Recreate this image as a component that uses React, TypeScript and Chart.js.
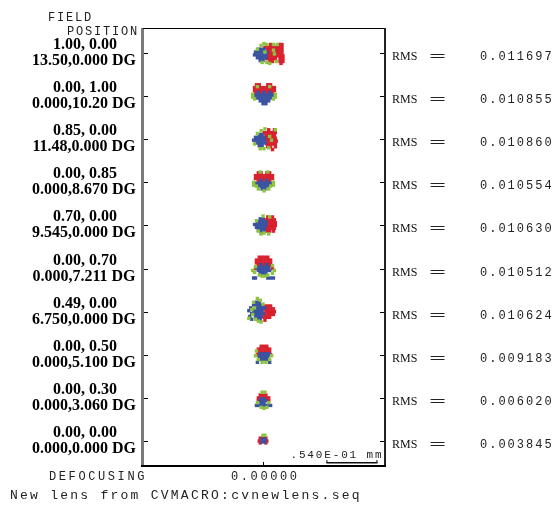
import React, { useEffect, useRef } from "react";
import { Chart, registerables } from "chart.js";

Chart.register(...registerables);

// Field labels (relative, degrees) and RMS spot radius (mm)
const FIELD_REL = ["1.00, 0.00", "0.00, 1.00", "0.85, 0.00", "0.00, 0.85", "0.70, 0.00", "0.00, 0.70", "0.49, 0.00", "0.00, 0.50", "0.00, 0.30", "0.00, 0.00"];
const FIELD_DEG = ["13.50,0.000 DG", "0.000,10.20 DG", "11.48,0.000 DG", "0.000,8.670 DG", "9.545,0.000 DG", "0.000,7.211 DG", "6.750,0.000 DG", "0.000,5.100 DG", "0.000,3.060 DG", "0.000,0.000 DG"];
const RMS_VALUES = ["0.011697", "0.010855", "0.010860", "0.010554", "0.010630", "0.010512", "0.010624", "0.009183", "0.006020", "0.003845"];
const DEFOCUS_LABEL = "0.00000";
const SCALE_LABEL = ".540E-01 mm";
const SCALE_LEN_UM = 54;
const SCALE_END_UM = 120;
const FOOTER = "New lens from CVMACRO:cvnewlens.seq";

// Spot ray intercepts in micrometres relative to each field's centre.
// Each entry: [dy (down), [dx, dx, ...]]
type Spot = [number, number[]][];

const RED_SPOTS: Spot[] = [
  [[-9, [7, 16, 19]], [-6, [1, 4, 7, 10, 13, 16, 19]], [-3, [4, 7, 13, 16, 19]], [0, [4, 7, 10, 13, 16, 19]], [3, [5, 8, 11, 14, 17, 20]], [6, [3, 6, 9, 12, 17, 20]], [9, [6, 9, 17, 20]], [11, [18]]],
  [[-12, [-8, -5, 4, 7]], [-9, [-10, -7, -4, -1, 2, 5, 8, 11]], [-6, [-10, -7, -4, -1, 2, 5, 8, 11]], [-3, [-9, -3, 3, 9]]],
  [[-10, [5, 11]], [-7, [0, 3, 6, 9, 12]], [-4, [2, 5, 8, 11]], [-1, [3, 6, 9, 12]], [2, [4, 7, 10, 13]], [5, [3, 6, 9, 12]], [8, [4, 7, 12]], [11, [9]]],
  [[-10, [-6, -3, 3, 6]], [-7, [-9, -6, -3, 0, 3, 6, 9]], [-4, [-9, -6, -3, 0, 3, 6, 9]], [-1, [-6, 0, 6]]],
  [[-9, [4, 9]], [-6, [2, 5, 8, 11]], [-3, [3, 6, 9, 12]], [0, [3, 6, 9, 12]], [3, [2, 5, 8, 11]], [6, [3, 6, 10]]],
  [[-12, [-5, -2, 1, 4]], [-9, [-8, -5, -2, 1, 4, 7]], [-6, [-8, -5, -2, 1, 4, 7]], [-3, [-6, 0, 6]], [0, [-9, 9]]],
  [[-6, [1, 4, 7]], [-3, [1, 4, 7, 10]], [0, [2, 5, 8, 11]], [3, [1, 4, 7, 10]], [6, [0, 3, 6]], [9, [1]]],
  [[-9, [-3, 0, 3]], [-6, [-6, -3, 0, 3, 6]], [-3, [-6, -3, 0, 3, 6]], [0, [-7, 7]]],
  [[-3, [-4, -1, 2]], [0, [-6, -3, 0, 3, 5]], [3, [-6, 5]]],
  [[-4, [-1]], [-3, [-4, 2]], [0, [-5, 3]], [2, [-4, 2]]],
];

const BLUE_SPOTS: Spot[] = [
  [[-4, [-6, -3, 0]], [-1, [-9, -6, -3, 0, 3]], [2, [-10, -7, -4, -1, 2]], [5, [-7, -4, -1, 2]], [8, [-4, -1]]],
  [[-4, [-6, 0, 6]], [-1, [-9, -6, -3, 0, 3, 6, 9]], [2, [-8, -5, -2, 1, 4, 7]], [5, [-4, -1, 2, 5]], [8, [-1, 2]]],
  [[-5, [-5, -2]], [-2, [-9, -6, -3, 0]], [1, [-11, -8, -5, -2, 1]], [4, [-8, -5, -2, 1]], [7, [-5, -2]]],
  [[-2, [-3, 3]], [1, [-8, -5, -2, 1, 4, 7]], [4, [-5, -2, 1, 4]], [7, [-2, 1]]],
  [[-7, [-4, -1]], [-4, [-7, -4, -1, 2]], [-1, [-10, -7, -4, -1, 2]], [2, [-8, -5, -2, 1]], [5, [-6, -3, 0]], [8, [-3]]],
  [[-4, [-3, 3]], [-1, [-7, -4, -1, 2, 5]], [2, [-6, -3, 0, 3, 6]], [5, [-4, -1, 2]], [10, [-11, -9, 4, 7, 10]]],
  [[-10, [-8, -5]], [-7, [-11, -8, -5, -2]], [-4, [-14, -8, -5, -2, 1]], [-1, [-16, -11, -8, -5, -2]], [2, [-13, -10, -7, -4, -1]], [5, [-15, -9, -6, -3]], [8, [-13, -7, -4]]],
  [[-1, [-4, -1, 2, 5]], [2, [-5, -2, 1, 4]], [5, [-3, 0, 3]], [8, [-7, 6]]],
  [[1, [-3, 0]], [3, [-4, -1, 2]], [6, [-3, 0]], [8, [-8, -5, -2, 1, 4, 7]]],
  [[-2, [-2, 1]], [1, [-2, 1]]],
];

const GREEN_SPOTS: Spot[] = [
  [[-10, [0]], [-9, [3, 10, 14]], [-8, [-3]], [-4, [-7]], [-3, [10]], [-1, [1]], [1, [11]], [9, [13]], [10, [-2, 3]], [11, [6]]],
  [[-10, [-7, 6]], [-2, [-12, 12]], [1, [-12, 12]], [3, [-10, 10]]],
  [[-11, [1]], [-10, [12]], [-9, [-3]], [-6, [-7]], [-3, [6]], [1, [8]], [5, [-10]], [9, [5]], [10, [-4, 0]]],
  [[-11, [-4, 4]], [0, [-11, 10]], [3, [-11, 10]], [4, [-8, 7]], [7, [-6, 5]], [9, [0]]],
  [[-10, [-1]], [-9, [6]], [-5, [-8]], [6, [-6]], [8, [0]], [9, [-3, 5]]],
  [[-3, [9]], [-2, [-9]], [2, [-12, 11]], [4, [-10]], [5, [9]], [7, [-5, 4]], [8, [-2, 1]]],
  [[-14, [-7]], [-12, [-4]], [-10, [-11]], [-8, [-1]], [-4, [-10]], [-2, [-13]], [3, [-12]], [7, [-16]], [8, [-9]], [10, [-6]], [11, [-3]]],
  [[-4, [-8]], [1, [-9, 8]], [5, [-6, 6]], [8, [-2, 2]]],
  [[-6, [-2, 1]], [5, [-7, 5]], [10, [-3, 3]], [11, [0]]],
  [[-6, [-1, 1]]],
];

const ROW_UM = 45.6; // micrometres spanned by one field row at the plot's scale
const X_HALF_UM = 128;

function toPoints(spots: Spot[]) {
  const pts: { x: number; y: number }[] = [];
  spots.forEach((spot, row) =>
    spot.forEach(([dy, xs]) => xs.forEach((dx) => pts.push({ x: dx, y: row + dy / ROW_UM })))
  );
  return pts;
}

const MONO = "'Liberation Mono', monospace";
const SERIF = "'Liberation Serif', serif";

const framePlugin = {
  id: "spotFrame",
  afterDraw(chart: any) {
    const { ctx, chartArea: a, scales } = chart;
    const xs = scales.x;
    const ys = scales.y;
    ctx.save();
    // frame
    ctx.fillStyle = "#7a7a7a";
    ctx.fillRect(a.left - 2, a.top, 3, a.bottom - a.top + 1);
    ctx.fillStyle = "#000";
    ctx.fillRect(a.left, a.top, a.right - a.left, 1);
    ctx.fillStyle = "#222";
    ctx.fillRect(a.right - 1, a.top, 2, a.bottom - a.top + 1);
    ctx.fillStyle = "#000";
    ctx.fillRect(a.left - 2, a.bottom - 1, a.right - a.left + 3, 2);

    const cx = xs.getPixelForValue(0);
    ctx.fillRect(Math.round(cx) - 1, a.bottom - 4, 1, 3);

    // field rows: ticks + labels
    for (let i = 0; i < FIELD_REL.length; i++) {
      const py = Math.round(ys.getPixelForValue(i));
      ctx.fillStyle = "#000";
      ctx.fillRect(a.left + 1, py, 4, 1);
      ctx.fillRect(a.right - 5, py, 4, 1);

      ctx.letterSpacing = "0px";
      ctx.font = `bold 16px ${SERIF}`;
      ctx.textAlign = "center";
      ctx.textBaseline = "alphabetic";
      ctx.fillStyle = "#000";
      ctx.fillText(FIELD_REL[i], 85, py - 4.5);
      ctx.fillText(FIELD_DEG[i], 84, py + 11.5);

      ctx.textAlign = "left";
      ctx.font = `12px ${SERIF}`;
      ctx.fillStyle = "#111";
      ctx.fillText("RMS", 392, py + 6.5);

      ctx.save();
      ctx.font = `13px ${MONO}`;
      ctx.textAlign = "center";
      ctx.translate(437.5, py + 7);
      ctx.scale(2.2, 1);
      ctx.fillStyle = "#222";
      ctx.fillText("=", 0, 0);
      ctx.restore();

      ctx.textAlign = "left";
      ctx.font = `12px ${MONO}`;
      ctx.letterSpacing = "2px";
      ctx.fillStyle = "#222";
      ctx.fillText(RMS_VALUES[i], 480, py + 7);
      ctx.letterSpacing = "0px";
    }

    // scale bar
    const x0 = xs.getPixelForValue(SCALE_END_UM - SCALE_LEN_UM);
    const x1 = xs.getPixelForValue(SCALE_END_UM);
    ctx.fillStyle = "#111";
    ctx.fillRect(x0, a.bottom - 4, x1 - x0, 1.5);
    ctx.fillRect(x0, a.bottom - 6, 1, 3);
    ctx.fillRect(x1 - 1, a.bottom - 6, 1, 3);
    ctx.font = `11px ${MONO}`;
    ctx.letterSpacing = "1.85px";
    ctx.textAlign = "left";
    ctx.fillStyle = "#222";
    ctx.fillText(SCALE_LABEL, x1 - 87, a.bottom - 8);

    // headers and footers
    ctx.font = `12px ${MONO}`;
    ctx.letterSpacing = "1.8px";
    ctx.fillText("FIELD", 48, 21);
    ctx.fillText("POSITION", 67, 34.5);

    ctx.letterSpacing = "2.6px";
    ctx.fillText("DEFOCUSING", 49, 479.5);
    ctx.fillText(DEFOCUS_LABEL, cx - 33, 479.5);

    ctx.font = `13px ${MONO}`;
    ctx.letterSpacing = "2.25px";
    ctx.fillText(FOOTER, 10, 498.5);
    ctx.letterSpacing = "0px";
    ctx.restore();
  },
};

export default function App() {
  const ref = useRef<HTMLCanvasElement | null>(null);
  useEffect(() => {
    document.body.style.margin = "0";
    const canvas = ref.current;
    if (!canvas) return;
    const common = { pointStyle: "rect", pointRadius: 2.4, pointBorderWidth: 0, showLine: false };
    const chart = new Chart(canvas, {
      type: "scatter",
      data: {
        datasets: [
          { label: "0.5461", data: toPoints(GREEN_SPOTS), backgroundColor: "#8cc43f", order: 1, ...common },
          { label: "0.4861", data: toPoints(BLUE_SPOTS), backgroundColor: "#3a52a2", order: 2, ...common },
          { label: "0.6563", data: toPoints(RED_SPOTS), backgroundColor: "#d8202f", order: 3, ...common },
        ],
      } as any,
      options: {
        responsive: false,
        animation: false,
        devicePixelRatio: 1,
        events: [],
        layout: { padding: { left: 143, right: 173, top: 28, bottom: 40 } },
        scales: {
          x: { type: "linear", min: -X_HALF_UM, max: X_HALF_UM, display: false },
          y: { type: "linear", min: -0.58, max: 9.58, reverse: true, display: false },
        },
        plugins: { legend: { display: false }, tooltip: { enabled: false } },
      } as any,
      plugins: [framePlugin],
    });
    return () => chart.destroy();
  }, []);
  return (
    <div style={{ width: 558, height: 506 }}>
      <canvas ref={ref} width={558} height={506} style={{ display: "block" }} />
    </div>
  );
}
